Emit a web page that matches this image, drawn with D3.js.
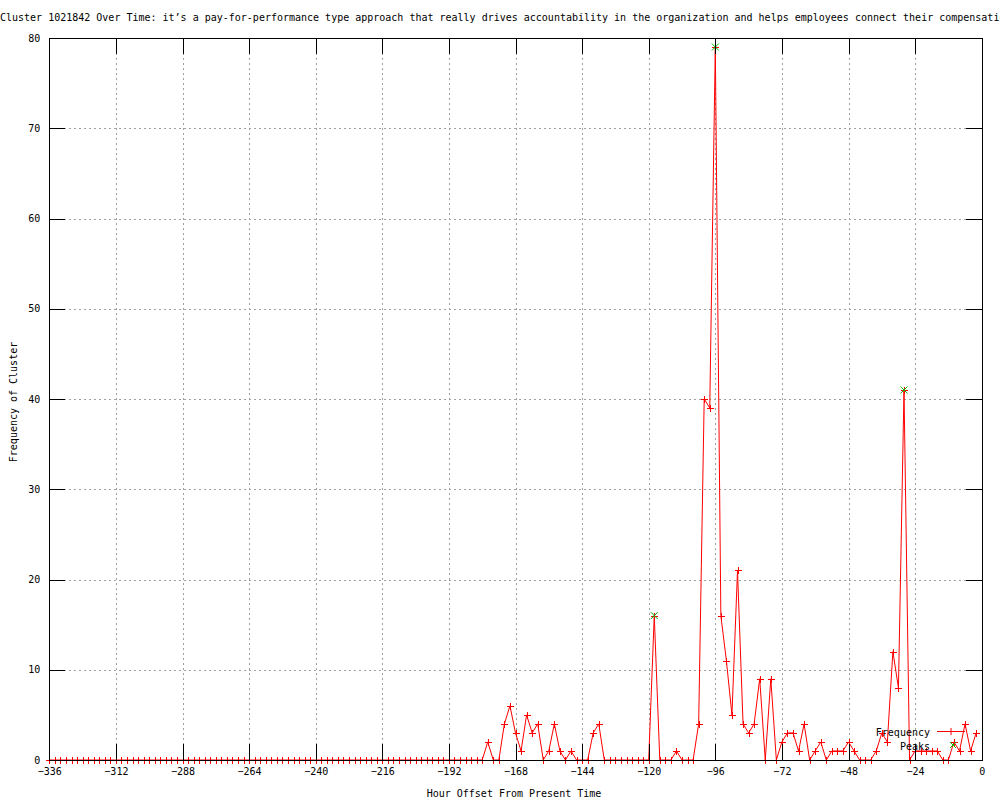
<!DOCTYPE html>
<html><head><meta charset="utf-8">
<script src="https://cdn.jsdelivr.net/npm/d3@7"></script>
<style>
html,body{margin:0;padding:0;background:#fff;}
svg text{font-family:"DejaVu Sans Mono","Liberation Mono",monospace;font-size:10px;fill:#000;}
</style></head>
<body>
<svg id="chart" width="1000" height="800"></svg>
<script>
const titleText = "Cluster 1021842 Over Time: it\u2019s a pay-for-performance type approach that really drives accountability in the organization and helps employees connect their compensation to their performance";
const xLabel = "Hour Offset From Present Time";
const yLabel = "Frequency of Cluster";
const xTicks = [-336,-312,-288,-264,-240,-216,-192,-168,-144,-120,-96,-72,-48,-24,0];
const yTicks = [0,10,20,30,40,50,60,70,80];
const hours = d3.range(-336, 0, 2);
const freq = [
 0,0,0,0,0,0,0,0,0,0, 0,0,0,0,0,0,0,0,0,0,
 0,0,0,0,0,0,0,0,0,0, 0,0,0,0,0,0,0,0,0,0,
 0,0,0,0,0,0,0,0,0,0, 0,0,0,0,0,0,0,0,0,0,
 0,0,0,0,0,0,0,0,0,0, 0,0,0,0,0,0,0,0,0,
 2,0,0,4,6,3,1,5,3,4,
 0,1,4,1,0,1,0,0,0,3,
 4,0,0,0,0,0,0,0,0,0,
 16,0,0,0,1,0,0,0,4,40,
 39,79,16,11,5,21,4,3,4,9,
 0,9,0,2,3,3,1,4,0,1,
 2,0,1,1,1,2,1,0,0,0,
 1,3,2,12,8,41,0,1,1,1,
 1,1,0,0,2,1,4,1,3
];
const peakHours = [-118, -96, -28];
const peakValues = [16, 79, 41];

const L = 49.3, R = 981.7, T = 38, B = 760;
const svg = d3.select("#chart");
const x = d3.scaleLinear().domain([-336, 0]).range([L, R]);
const y = d3.scaleLinear().domain([0, 80]).range([B, T]);
const data = hours.map((h, i) => ({h, v: freq[i]}));

// grid
const grid = svg.append("g").attr("stroke", "#a0a0a0").attr("stroke-dasharray", "2,3").attr("shape-rendering", "crispEdges");
xTicks.filter(t => t > -336 && t < 0).forEach(t => {
  grid.append("line").attr("x1", Math.round(x(t)) + 0.5).attr("x2", Math.round(x(t)) + 0.5).attr("y1", T).attr("y2", B);
});
yTicks.filter(t => t > 0 && t < 80).forEach(t => {
  grid.append("line").attr("x1", L).attr("x2", R).attr("y1", Math.round(y(t)) + 0.5).attr("y2", Math.round(y(t)) + 0.5);
});

// axes with ticks (mirrored)
const tl = 16;
const xAxisB = d3.axisBottom(x).tickValues(xTicks).tickSizeInner(-tl).tickSizeOuter(0).tickPadding(8).tickFormat(d3.format("d"));
const xAxisT = d3.axisTop(x).tickValues(xTicks).tickSizeInner(-tl).tickSizeOuter(0).tickFormat("");
const yAxisL = d3.axisLeft(y).tickValues(yTicks).tickSizeInner(-tl).tickSizeOuter(0).tickPadding(9).tickFormat(d3.format("d"));
const yAxisR = d3.axisRight(y).tickValues(yTicks).tickSizeInner(-tl).tickSizeOuter(0).tickFormat("");

// data line
svg.append("path").datum(data)
  .attr("fill", "none").attr("stroke", "#ff0000").attr("stroke-width", 1)
  .attr("d", d3.line().x(d => x(d.h)).y(d => y(d.v)));

// + markers
const ms = 3.5;
svg.append("g").attr("stroke", "#ff0000").attr("stroke-width", 1).attr("shape-rendering", "crispEdges")
  .selectAll("path").data(data).join("path")
  .attr("d", d => { const cx = Math.round(x(d.h)) + 0.5, cy = Math.round(y(d.v)) + 0.5;
    return `M${cx - ms},${cy}H${cx + ms}M${cx},${cy - ms}V${cy + ms}`; });

// peaks: green x
const pk = peakHours.map((h, i) => ({h, v: peakValues[i]}));
svg.append("g").attr("stroke", "#00c000").attr("stroke-width", 1)
  .selectAll("path").data(pk).join("path")
  .attr("d", d => { const cx = x(d.h), cy = y(d.v);
    return `M${cx - 3.5},${cy - 3.5}L${cx + 3.5},${cy + 3.5}M${cx - 3.5},${cy + 3.5}L${cx + 3.5},${cy - 3.5}`; });

// axes on top
const axStyle = g => { g.select(".domain").remove(); g.selectAll("line").attr("stroke", "#000").attr("shape-rendering", "crispEdges");
  g.selectAll("text").attr("font-family", "DejaVu Sans Mono").attr("font-size", 10); };
svg.append("g").attr("transform", `translate(0,${B})`).call(xAxisB).call(axStyle);
svg.append("g").attr("transform", `translate(0,${T})`).call(xAxisT).call(axStyle);
svg.append("g").attr("transform", `translate(${L},0)`).call(yAxisL).call(axStyle);
svg.append("g").attr("transform", `translate(${R},0)`).call(yAxisR).call(axStyle);

// frame
svg.append("rect").attr("x", Math.round(L) + 0.5).attr("y", T + 0.5).attr("width", Math.round(R) - Math.round(L)).attr("height", B - T)
  .attr("fill", "none").attr("stroke", "#000").attr("shape-rendering", "crispEdges");

// title
svg.append("text").attr("x", 0).attr("y", 21).text(titleText);
// axis labels
svg.append("text").attr("x", 514).attr("y", 797).attr("text-anchor", "middle").text(xLabel);
svg.append("text").attr("transform", "translate(17,402) rotate(-90)").attr("text-anchor", "middle").text(yLabel);

// legend
const lg = svg.append("g");
lg.append("text").attr("x", 930).attr("y", 736).attr("text-anchor", "end").text("Frequency");
lg.append("line").attr("x1", 937).attr("x2", 965).attr("y1", 731.5).attr("y2", 731.5).attr("stroke", "#ff0000");
lg.append("path").attr("d", `M${951 - ms},731.5H${951 + ms}M951,${731.5 - ms}V${731.5 + ms}`).attr("stroke", "#ff0000");
lg.append("text").attr("x", 930).attr("y", 750).attr("text-anchor", "end").text("Peaks");
lg.append("path").attr("d", `M950,742L956,748M950,748L956,742`).attr("stroke", "#00c000");
</script>
</body></html>
